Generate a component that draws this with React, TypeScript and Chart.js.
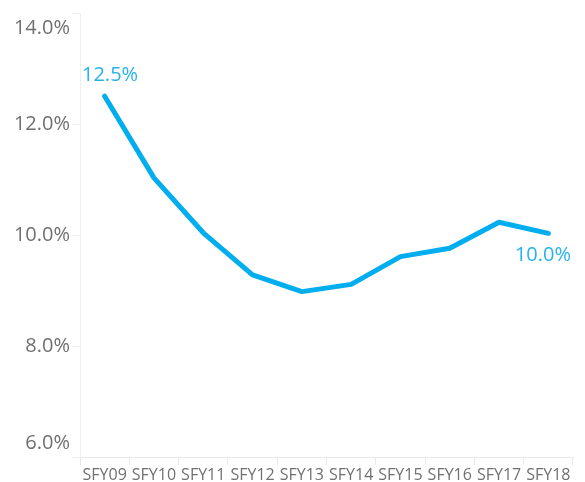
import React, { useEffect, useRef } from "react";
import { Chart, registerables } from "chart.js";

Chart.register(...registerables);

const categories = ["SFY09", "SFY10", "SFY11", "SFY12", "SFY13", "SFY14", "SFY15", "SFY16", "SFY17", "SFY18"];
const rates = [12.5, 11.03, 10.04, 9.28, 8.98, 9.11, 9.61, 9.76, 10.23, 10.03];
const yTicks = [6, 8, 10, 12, 14];

const LINE_COLOR = "#00adef";
const LABEL_COLOR = "#27b3ea";
const AXIS_TEXT = "#707070";
const FONT = "'Open Sans', sans-serif";

const endLabels = {
  id: "endLabels",
  afterDatasetsDraw(chart: any) {
    const { ctx, chartArea } = chart;
    const meta = chart.getDatasetMeta(0);
    const data = chart.data.datasets[0].data as number[];
    const idxs = [0, data.length - 1];
    ctx.save();
    ctx.font = `20px ${FONT}`;
    ctx.fillStyle = LABEL_COLOR;
    ctx.textBaseline = "middle";
    ctx.textAlign = "left";
    idxs.forEach((i, k) => {
      const pt = meta.data[i];
      const text = data[i].toFixed(1) + "%";
      const w = ctx.measureText(text).width;
      let x = pt.x - w / 2;
      x = Math.max(chartArea.left + 2, Math.min(chartArea.right - 2 - w, x));
      const y = k === 0 ? pt.y - 21 : pt.y + 22;
      ctx.fillText(text, x, y);
    });
    ctx.restore();
  },
};

export default function App() {
  const ref = useRef<HTMLCanvasElement>(null);
  useEffect(() => {
    if (!ref.current) return;
    const chart = new Chart(ref.current, {
      type: "line",
      data: {
        labels: categories,
        datasets: [
          {
            data: rates,
            borderColor: LINE_COLOR,
            borderWidth: 5,
            pointRadius: 0,
            pointHoverRadius: 0,
            tension: 0,
            borderCapStyle: "round",
            borderJoinStyle: "round",
            fill: false,
          },
        ],
      },
      options: {
        animation: false,
        responsive: true,
        maintainAspectRatio: false,
        layout: { padding: { top: 13, right: 12, left: 0, bottom: 0 } },
        plugins: { legend: { display: false }, tooltip: { enabled: false } },
        scales: {
          x: {
            type: "category",
            offset: true,
            grid: {
              offset: true,
              drawOnChartArea: false,
              drawTicks: true,
              tickLength: 8,
              color: "#e8e8e8",
            },
            border: { color: "#e8e8e8" },
            ticks: {
              color: AXIS_TEXT,
              font: { family: FONT, size: 16 },
              padding: 1,
              maxRotation: 0,
              autoSkip: false,
            },
            afterFit(scale: any) {
              scale.height = 25;
              scale.paddingLeft = 0;
              scale.paddingRight = 0;
            },
          },
          y: {
            min: 6,
            max: 14,
            afterBuildTicks(scale: any) {
              scale.ticks = yTicks.map((v) => ({ value: v }));
            },
            grid: {
              drawOnChartArea: false,
              drawTicks: true,
              tickLength: 8,
              color: "#eeeeee",
            },
            border: { color: "#eeeeee" },
            ticks: {
              color: AXIS_TEXT,
              padding: 2,
              font: (ctx: any) => {
                const v = ctx.tick ? ctx.tick.value : 0;
                let lh = 1.2;
                if (v === 14) lh = 1.5;
                if (v === 6) lh = 1.4;
                return { family: FONT, size: 20, lineHeight: lh };
              },
              callback: (value: any) => {
                const v = Number(value);
                const s = v.toFixed(1) + "%";
                if (v === 14) return ["", s];
                if (v === 6) return [s, ""];
                return s;
              },
            },
            afterFit(scale: any) {
              scale.width = 80;
              scale.paddingTop = 0;
              scale.paddingBottom = 0;
            },
          },
        },
      },
      plugins: [endLabels],
    } as any);
    return () => chart.destroy();
  }, []);
  return (
    <div style={{ position: "fixed", left: 0, top: 0, width: 585, height: 482, background: "#fff" }}>
      <canvas ref={ref} />
    </div>
  );
}
